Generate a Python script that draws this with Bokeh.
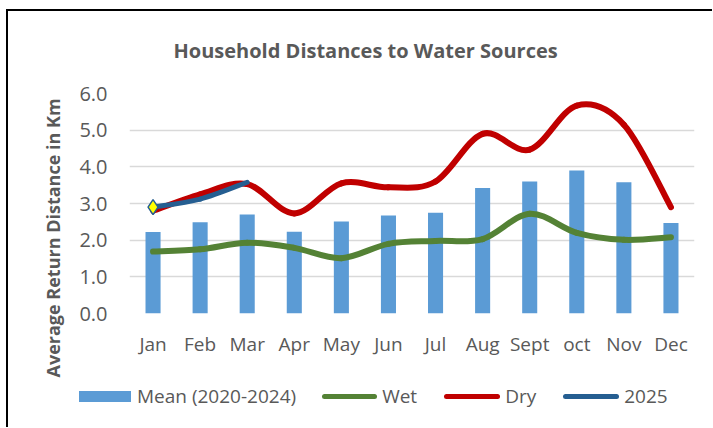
from bokeh.plotting import figure
from bokeh.layouts import column, row
from bokeh.models import Range1d, FixedTicker, Title, Spacer, Div
from bokeh.embed import file_html
from bokeh.resources import INLINE

# ---- data ----
months = ["Jan", "Feb", "Mar", "Apr", "May", "Jun", "Jul", "Aug", "Sept", "oct", "Nov", "Dec"]
mean_2020_2024 = [2.22, 2.49, 2.70, 2.23, 2.51, 2.67, 2.75, 3.42, 3.60, 3.90, 3.58, 2.47]
wet = [1.69, 1.75, 1.93, 1.79, 1.51, 1.90, 1.98, 2.03, 2.72, 2.20, 2.01, 2.08]
dry = [2.80, 3.25, 3.53, 2.73, 3.55, 3.44, 3.60, 4.90, 4.47, 5.67, 5.15, 2.90]
y2025 = [2.90, 3.12, 3.58]
y_ticks = [0, 1, 2, 3, 4, 5, 6]
series_names = ["Mean (2020-2024)", "Wet", "Dry", "2025"]

GREY = "#595959"
FONT = "Open Sans"
BAR_C, WET_C, DRY_C, C25 = "#5b9bd5", "#548235", "#c00000", "#255e91"

xs = list(range(len(months)))

p = figure(width=704, height=372, x_range=Range1d(-0.5, len(months) - 0.5),
           y_range=Range1d(0, 6), output_backend="svg", toolbar_location=None,
           min_border_left=121, min_border_right=18, min_border_top=82,
           min_border_bottom=70)
p.outline_line_color = None
p.background_fill_color = "white"
p.border_fill_color = "white"

# spacer title (nearest the frame), then the real title above it
p.add_layout(Title(text=" ", text_font=FONT, text_font_size="10px",
                   standoff=14), "above")
p.add_layout(Title(text="Household Distances to Water Sources", align="left",
                   offset=44, standoff=0, text_font=FONT,
                   text_font_size="20px", text_font_style="bold",
                   text_color=GREY), "above")

# axes
p.xaxis.ticker = FixedTicker(ticks=xs)
p.xaxis.major_label_overrides = {i: m for i, m in enumerate(months)}
p.yaxis.ticker = FixedTicker(ticks=y_ticks)
p.yaxis.major_label_overrides = {t: f"{t:.1f}" for t in y_ticks}
for ax in (p.xaxis, p.yaxis):
    ax.axis_line_color = None
    ax.major_tick_line_color = None
    ax.minor_tick_line_color = None
    ax.major_tick_out = 0
    ax.major_tick_in = 0
    ax.major_label_text_font = FONT
    ax.major_label_text_color = GREY
p.xaxis.major_label_text_font_size = "19px"
p.yaxis.major_label_text_font_size = "20px"
p.xaxis.major_label_standoff = 17
p.yaxis.major_label_standoff = 22

p.xgrid.grid_line_color = None
p.ygrid.grid_line_color = "#d9d9d9"
p.ygrid.grid_line_width = 1.5

ylab = Title(text="Average Return Distance in Km", align="left", offset=-64,
             text_font=FONT, text_font_size="18px", text_font_style="bold",
             text_color=GREY, standoff=24)
p.add_layout(ylab, "left")

# bars
p.vbar(x=xs, top=mean_2020_2024, width=0.32, fill_color=BAR_C, line_color=None)


def smooth(ax, ay):
    n = len(ax)
    seg = {k: [] for k in ("x0", "y0", "x1", "y1", "cx0", "cy0", "cx1", "cy1")}
    for i in range(n - 1):
        a = max(i - 1, 0)
        d = min(i + 2, n - 1)
        seg["x0"].append(ax[i]); seg["y0"].append(ay[i])
        seg["x1"].append(ax[i + 1]); seg["y1"].append(ay[i + 1])
        seg["cx0"].append(ax[i] + (ax[i + 1] - ax[a]) / 6)
        seg["cy0"].append(ay[i] + (ay[i + 1] - ay[a]) / 6)
        seg["cx1"].append(ax[i + 1] - (ax[d] - ax[i]) / 6)
        seg["cy1"].append(ay[i + 1] - (ay[d] - ay[i]) / 6)
    return seg


p.bezier(**smooth(xs, wet), line_color=WET_C, line_width=6, line_cap="round")
p.bezier(**smooth(xs, dry), line_color=DRY_C, line_width=6, line_cap="round")
x25 = xs[:len(y2025)]
p.bezier(**smooth(x25, y2025), line_color=C25, line_width=5, line_cap="round")
p.scatter(x=x25[:1], y=y2025[:1], marker="diamond", size=15,
          fill_color="#ffff00", line_color=C25, line_width=1.5)

# ---- legend (HTML strip under the chart) ----
swatches = [
    f"display:inline-block;width:52px;height:11px;background:{BAR_C};",
    f"display:inline-block;width:55px;height:5px;border-radius:3px;background:{WET_C};",
    f"display:inline-block;width:56px;height:5px;border-radius:3px;background:{DRY_C};",
    f"display:inline-block;width:56px;height:5px;border-radius:3px;background:{C25};",
]
gaps_after_swatch = [6, 5, 5, 5]
gaps_after_label = [26, 27, 27, 0]
parts = []
for sw, name, g1, g2 in zip(swatches, series_names, gaps_after_swatch, gaps_after_label):
    parts.append(f'<span style="{sw}margin-right:{g1}px;"></span>'
                 f'<span style="margin-right:{g2}px;">{name}</span>')
legend_html = (
    '<div style="display:flex;align-items:center;margin:0;padding:0 0 0 71px;'
    f'height:19px;margin-top:4px;font-family:\'{FONT}\';font-size:19px;'
    f'line-height:19px;color:{GREY};white-space:nowrap;">' + "".join(parts) + "</div>"
)
legend_div = Div(text=legend_html, width=704, height=44, margin=0)

inner = column(p, legend_div, spacing=0,
               styles={"border-left": "2px solid #000000",
                       "border-top": "2px solid #000000"})
page = column(Spacer(width=10, height=9),
              row(Spacer(width=6, height=10), inner, spacing=0),
              spacing=0)

open("out.html", "w").write(file_html(page, INLINE))
